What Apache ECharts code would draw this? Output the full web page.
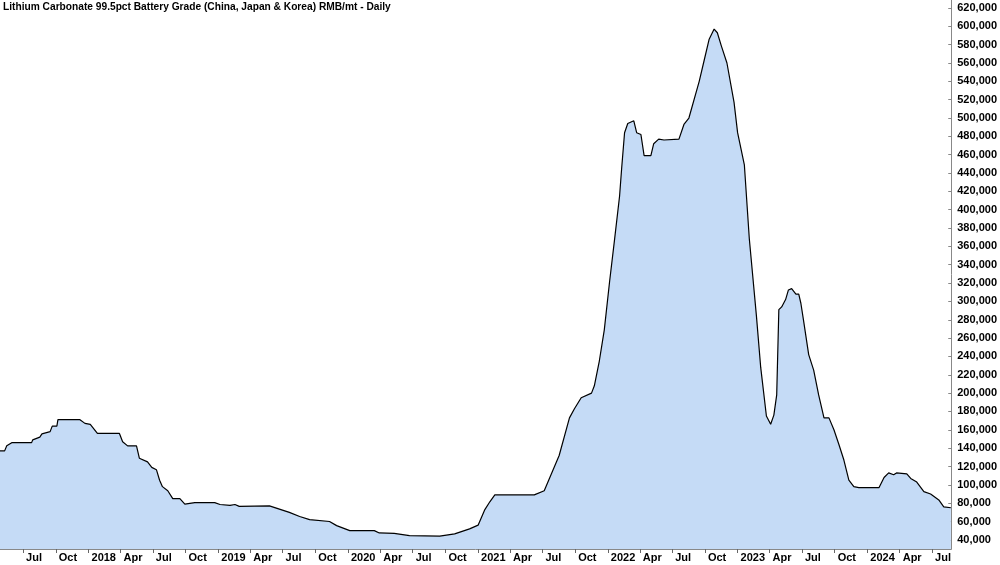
<!DOCTYPE html>
<html><head><meta charset="utf-8">
<script src="https://cdn.jsdelivr.net/npm/echarts@6/dist/echarts.min.js"></script>
<style>html,body{margin:0;padding:0;background:#fff}#c{width:1000px;height:565px}</style>
</head><body><div id="c"></div>
<script>
const dates = ["2017-04-27","2017-05-10","2017-05-16","2017-05-30","2017-07-25","2017-07-28","2017-08-17","2017-08-23","2017-09-15","2017-09-21","2017-10-04","2017-10-07","2017-12-08","2017-12-22","2018-01-06","2018-01-26","2018-03-29","2018-04-07","2018-04-21","2018-05-16","2018-05-24","2018-06-16","2018-06-28","2018-07-11","2018-07-20","2018-07-28","2018-08-12","2018-08-26","2018-09-15","2018-09-29","2018-10-27","2018-12-22","2019-01-06","2019-02-03","2019-02-17","2019-03-01","2019-05-25","2019-06-22","2019-07-20","2019-08-18","2019-09-15","2019-11-10","2019-11-30","2020-01-06","2020-03-15","2020-03-29","2020-05-10","2020-06-22","2020-09-15","2020-10-27","2020-12-08","2021-01-01","2021-01-20","2021-02-03","2021-02-17","2021-03-01","2021-05-16","2021-06-08","2021-07-06","2021-08-17","2021-09-15","2021-09-29","2021-10-18","2021-11-16","2021-11-24","2021-12-08","2021-12-22","2022-01-06","2022-01-20","2022-02-03","2022-02-09","2022-02-17","2022-02-26","2022-03-15","2022-03-23","2022-04-04","2022-04-13","2022-05-02","2022-05-10","2022-05-24","2022-06-08","2022-07-20","2022-08-03","2022-08-17","2022-09-15","2022-09-29","2022-10-13","2022-10-27","2022-11-05","2022-11-16","2022-12-02","2022-12-22","2023-01-01","2023-01-20","2023-02-03","2023-02-23","2023-03-07","2023-03-23","2023-04-04","2023-04-13","2023-04-21","2023-04-27","2023-05-05","2023-05-16","2023-05-24","2023-06-02","2023-06-14","2023-06-22","2023-06-28","2023-07-06","2023-07-20","2023-08-03","2023-08-17","2023-09-01","2023-09-15","2023-09-29","2023-10-13","2023-10-27","2023-11-10","2023-11-24","2023-12-08","2024-02-03","2024-02-17","2024-03-01","2024-03-15","2024-03-23","2024-04-21","2024-05-02","2024-05-19","2024-06-08","2024-06-27","2024-07-20","2024-08-03","2024-08-23"];
const prices = [137000,137000,142500,146000,146000,149000,152000,155500,158000,164000,164000,171000,171000,167000,166000,156000,156000,147000,142500,142500,129000,125000,119000,116500,105000,98000,93500,85000,85000,79000,80500,80500,78500,77500,78500,76500,77000,73500,70000,65500,62000,60000,55500,50000,50000,47500,47000,44500,44000,46500,52000,56000,73000,81500,89000,89000,89000,89000,93500,132000,173000,183000,195000,200000,208000,235000,269000,322000,368000,415000,446000,484000,494000,497000,484000,482000,459000,459000,472000,477000,476000,477000,493000,500000,540000,563000,586000,597000,593000,579000,560000,517000,484000,449000,368000,284000,228000,175000,166000,176000,198000,291000,294000,302000,312500,314000,308000,308000,298000,278000,242000,225000,198000,173000,173000,160000,144000,127000,105000,98000,97000,97000,108000,113000,111000,113000,112000,107000,103000,92500,90000,83500,76000,75000];
const xTicks = ["2017-07-01","2017-10-01","2018-01-01","2018-04-01","2018-07-01","2018-10-01","2019-01-01","2019-04-01","2019-07-01","2019-10-01","2020-01-01","2020-04-01","2020-07-01","2020-10-01","2021-01-01","2021-04-01","2021-07-01","2021-10-01","2022-01-01","2022-04-01","2022-07-01","2022-10-01","2023-01-01","2023-04-01","2023-07-01","2023-10-01","2024-01-01","2024-04-01","2024-07-01"];
const yTicks = [40000,60000,80000,100000,120000,140000,160000,180000,200000,220000,240000,260000,280000,300000,320000,340000,360000,380000,400000,420000,440000,460000,480000,500000,520000,540000,560000,580000,600000,620000];
const monthNames = ["Jan","Feb","Mar","Apr","May","Jun","Jul","Aug","Sep","Oct","Nov","Dec"];
const ts = s => { const [y,m,d] = s.split('-').map(Number); return Date.UTC(y,m-1,d); };
const chart = echarts.init(document.getElementById('c'));
const F = 'Liberation Sans, Arial, sans-serif';
chart.setOption({
  animation:false,
  title:{text:'Lithium Carbonate 99.5pct Battery Grade (China, Japan & Korea) RMB/mt - Daily',left:1,top:0,padding:[2,2],
    textStyle:{fontFamily:F,fontSize:10.2,fontWeight:'bold',color:'#000'}},
  grid:{left:0,right:48,top:0,bottom:16},
  xAxis:{type:'value',min:ts('2017-04-27'),max:ts('2024-08-24'),
    axisLine:{lineStyle:{color:'#888'}},
    axisTick:{customValues:xTicks.map(ts),length:4,lineStyle:{color:'#666'}},
    axisLabel:{customValues:xTicks.map(ts),align:'left',margin:3,padding:[0,0,0,3],
      fontFamily:F,fontSize:11,fontWeight:'bold',color:'#000',
      formatter:v=>{const d=new Date(v);return d.getUTCMonth()===0?String(d.getUTCFullYear()):monthNames[d.getUTCMonth()];}},
    splitLine:{show:false}},
  yAxis:{type:'value',position:'right',min:30000,max:628700,
    axisLine:{show:true,lineStyle:{color:'#888'}},
    axisTick:{show:true,inside:true,length:3,customValues:yTicks,lineStyle:{color:'#888'}},
    axisLabel:{customValues:yTicks,margin:6,fontFamily:F,fontSize:11,fontWeight:'bold',color:'#000',
      formatter:v=>v.toLocaleString('en-US')},
    splitLine:{show:false}},
  series:[{type:'line',data:dates.map((d,i)=>[ts(d),prices[i]]),showSymbol:false,
    lineStyle:{color:'#000',width:1.2},areaStyle:{color:'#c5dbf6',opacity:1}}]
});
</script></body></html>
